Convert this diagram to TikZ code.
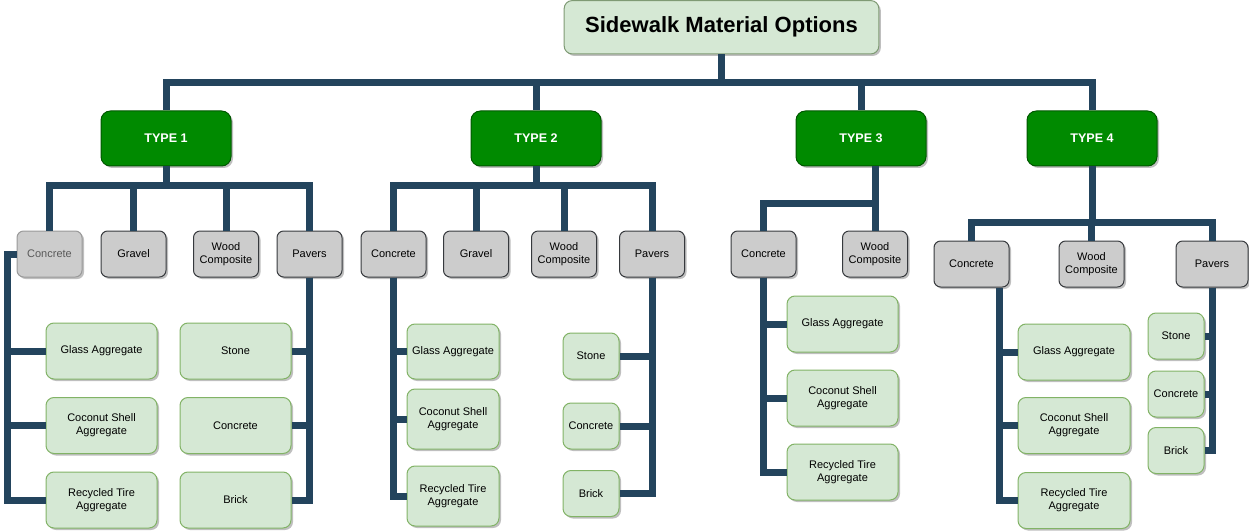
\documentclass[tikz,border=0pt]{standalone}
\usepackage{fontspec}
\setmainfont{Liberation Sans}
\usepackage{tikz}
\usetikzlibrary{shapes,arrows,shadows}
\definecolor{linkblue}{HTML}{23445D}
\definecolor{typegreen}{HTML}{008A00}
\definecolor{typeborder}{HTML}{005700}
\definecolor{palegreen}{HTML}{D5E8D4}
\definecolor{paleborder}{HTML}{82B366}
\definecolor{titleborder}{HTML}{7F9A74}
\definecolor{greybox}{HTML}{CCCCCC}
\definecolor{greyborder}{HTML}{36393D}
\tikzstyle{boxshadow} = [drop shadow={shadow xshift=1.5pt, shadow yshift=-1.5pt, opacity=0.25, fill=black}]
\tikzstyle{titlebox} = [rectangle, draw=titleborder, fill=palegreen, line width=0.75pt, rounded corners=6pt, minimum width=236pt, minimum height=40pt, font=\fontsize{16.5}{18}\selectfont\bfseries, boxshadow]
\tikzstyle{typebox} = [rectangle, draw=typeborder, fill=typegreen, text=white, line width=0.75pt, rounded corners=7pt, minimum width=97.5pt, minimum height=41.25pt, font=\fontsize{9.4}{11}\selectfont\bfseries, boxshadow]
\tikzstyle{materialbox} = [rectangle, draw=greyborder, fill=greybox, line width=0.75pt, rounded corners=5pt, minimum width=48.75pt, minimum height=34.5pt, align=center, inner sep=1pt, font=\fontsize{8.25}{9.75}\selectfont, boxshadow]
\tikzstyle{optionbox} = [rectangle, draw=paleborder, fill=palegreen, line width=0.75pt, rounded corners=6pt, minimum width=83.25pt, minimum height=42pt, align=center, inner sep=1pt, font=\fontsize{8.25}{9.75}\selectfont, boxshadow]
\tikzstyle{smallopt} = [optionbox, minimum width=42pt, minimum height=34.5pt]
\tikzstyle{line} = [draw, linkblue, line width=5.25pt]

\begin{document}
\begin{tikzpicture}[x=0.75pt,y=-0.75pt]
	\useasboundingbox (0,0) rectangle (1249,531);
	\node[titlebox] (root) at (721.5,27.25) {Sidewalk Material Options};
	\node[typebox] (type1) at (166,138.5) {TYPE 1};
	\node[typebox] (type2) at (536,138.5) {TYPE 2};
	\node[typebox] (type3) at (861,138.5) {TYPE 3};
	\node[typebox] (type4) at (1092,138.5) {TYPE 4};

	\node[materialbox,draw=gray!80,text=black!65] (conc1) at (49.5,254) {Concrete};
	\node[materialbox] (grav1) at (133.5,254) {Gravel};
	\node[materialbox] (wood1) at (226,254) {Wood\\Composite};
	\node[materialbox] (pav1) at (309.5,254) {Pavers};
	\node[materialbox] (conc2) at (393.5,254) {Concrete};
	\node[materialbox] (grav2) at (476,254) {Gravel};
	\node[materialbox] (wood2) at (564,254) {Wood\\Composite};
	\node[materialbox] (pav2) at (652,254) {Pavers};
	\node[materialbox] (conc3) at (763.5,254) {Concrete};
	\node[materialbox] (wood3) at (875,254) {Wood\\Composite};
	\node[materialbox,minimum width=56.25pt] (conc4) at (971.5,264) {Concrete};
	\node[materialbox] (wood4) at (1091.5,264) {Wood\\Composite};
	\node[materialbox,minimum width=54pt] (pav4) at (1212,264) {Pavers};

	\node[optionbox] (glass1) at (101.5,351) {Glass Aggregate};
	\node[optionbox] (coco1) at (101.5,425.5) {Coconut Shell\\Aggregate};
	\node[optionbox] (tire1) at (101.5,500) {Recycled Tire\\Aggregate};
	\node[optionbox] (stone1) at (235.5,351) {Stone};
	\node[optionbox] (pconc1) at (235.5,425.5) {Concrete};
	\node[optionbox] (brick1) at (235.5,500) {Brick};

	\node[optionbox,minimum width=69pt,minimum height=41.25pt] (glass2) at (453,351.5) {Glass Aggregate};
	\node[optionbox,minimum width=69pt,minimum height=45pt] (coco2) at (453,419) {Coconut Shell\\Aggregate};
	\node[optionbox,minimum width=69pt,minimum height=45pt] (tire2) at (453,496) {Recycled Tire\\Aggregate};
	\node[smallopt] (stone2) at (591,356) {Stone};
	\node[smallopt] (pconc2) at (591,426) {Concrete};
	\node[smallopt] (brick2) at (591,493.5) {Brick};

	\node[optionbox] (glass3) at (842.5,324) {Glass Aggregate};
	\node[optionbox] (coco3) at (842.5,398) {Coconut Shell\\Aggregate};
	\node[optionbox] (tire3) at (842.5,472) {Recycled Tire\\Aggregate};

	\node[optionbox,minimum width=84pt] (glass4) at (1074,352) {Glass Aggregate};
	\node[optionbox,minimum width=84pt] (coco4) at (1074,425.5) {Coconut Shell\\Aggregate};
	\node[optionbox,minimum width=84pt] (tire4) at (1074,500.5) {Recycled Tire\\Aggregate};
	\node[smallopt] (stone4) at (1176,336) {Stone};
	\node[smallopt] (pconc4) at (1176,394) {Concrete};
	\node[smallopt] (brick4) at (1176,450.5) {Brick};

	\path[line] (root.south) -- ++(0,28.5) -| (type1.north);
	\path[line] (root.south) -- ++(0,28.5) -| (type2.north);
	\path[line] (root.south) -- ++(0,28.5) -| (type3.north);
	\path[line] (root.south) -- ++(0,28.5) -| (type4.north);

	\path[line] (type1.south) -- ++(0,19) -| (conc1.north);
	\path[line] (type1.south) -- ++(0,19) -| (grav1.north);
	\path[line] (type1.south) -- ++(0,19) -| (wood1.north);
	\path[line] (type1.south) -- ++(0,19) -| (pav1.north);
	\path[line] (type2.south) -- ++(0,19) -| (conc2.north);
	\path[line] (type2.south) -- ++(0,19) -| (grav2.north);
	\path[line] (type2.south) -- ++(0,19) -| (wood2.north);
	\path[line] (type2.south) -- ++(0,19) -| (pav2.north);
	\path[line] (type3.south -| wood3.north) -- (wood3.north);
	\path[line] (type3.south -| wood3.north) -- ++(0,37) -| (conc3.north);
	\path[line] (type4.south) -- ++(0,56) -| (conc4.north);
	\path[line] (type4.south) -- ++(0,56) -| (wood4.north);
	\path[line] (type4.south) -- ++(0,56) -| (pav4.north);

	\path[line] (conc1.west) -- ++(-9,0) |- (glass1.west);
	\path[line] (conc1.west) -- ++(-9,0) |- (coco1.west);
	\path[line] (conc1.west) -- ++(-9,0) |- (tire1.west);
	\path[line] (pav1.south) |- (stone1.east);
	\path[line] (pav1.south) |- (pconc1.east);
	\path[line] (pav1.south) |- (brick1.east);
	\path[line] (conc2.south) |- (glass2.west);
	\path[line] (conc2.south) |- (coco2.west);
	\path[line] (conc2.south) |- (tire2.west);
	\path[line] (pav2.south) |- (stone2.east);
	\path[line] (pav2.south) |- (pconc2.east);
	\path[line] (pav2.south) |- (brick2.east);
	\path[line] (conc3.south) |- (glass3.west);
	\path[line] (conc3.south) |- (coco3.west);
	\path[line] (conc3.south) |- (tire3.west);
	\path[line] ([xshift=21pt]conc4.south) |- (glass4.west);
	\path[line] ([xshift=21pt]conc4.south) |- (coco4.west);
	\path[line] ([xshift=21pt]conc4.south) |- (tire4.west);
	\path[line] (pav4.south) |- (stone4.east);
	\path[line] (pav4.south) |- (pconc4.east);
	\path[line] (pav4.south) |- (brick4.east);
\end{tikzpicture}
\end{document}
